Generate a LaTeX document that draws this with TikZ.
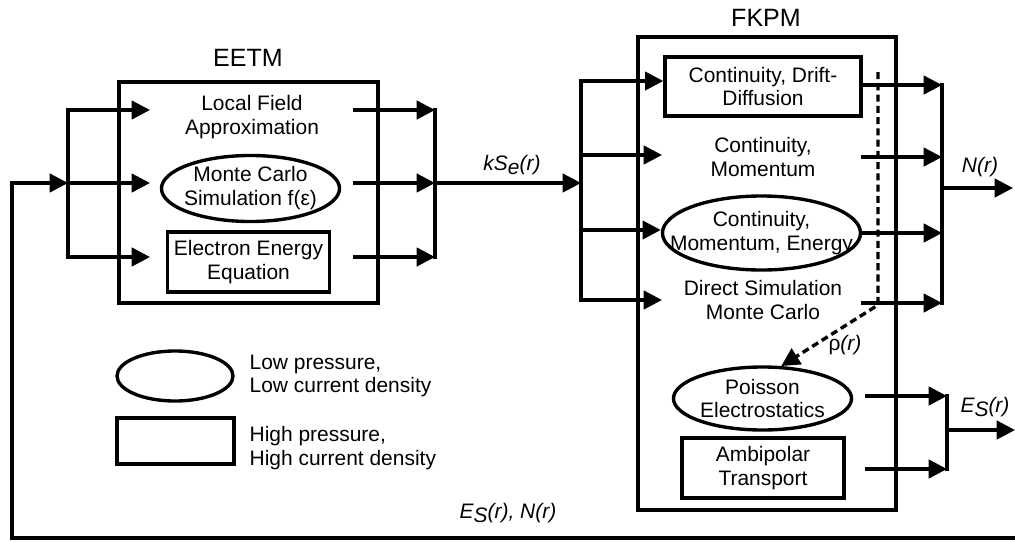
\documentclass[tikz,border=0pt]{standalone}
\usepackage{fontspec}
\setmainfont{Liberation Sans}
\usetikzlibrary{arrows.meta, calc, fit, shapes.geometric}

\begin{document}
\begin{tikzpicture}[x=0.025cm, y=-0.025cm, line width=2.4pt,
      >={Triangle[length=13pt, width=13pt]},
      font=\fontsize{14.9}{17}\selectfont,
      title/.style={font=\fontsize{17.8}{20}\selectfont},
      bigbox/.style={draw, inner sep=0pt},
      rbox/.style={draw, rectangle, align=center, inner sep=0pt},
      ebox/.style={draw, ellipse, align=center, inner sep=-2cm},
      plain/.style={align=center, inner sep=0pt},
      bus/.style={line cap=rect},
      rel/.style={font=\fontsize{14.9}{17}\selectfont\itshape, inner sep=1pt}]
    \useasboundingbox (0,0) rectangle (1015,541);
    % the two model blocks
    \node[title] (eetmT) at (248,58) {EETM};
    \node[title] (fkpmT) at (766,18) {FKPM};
    \node[bigbox, fit={(119,82) (378,303)}] (eetm) {};
    \node[bigbox, fit={(638,37) (896,510)}] (fkpm) {};
    \node[plain] (lfa) at (252,117) {Local Field\\Approximation};
    \node[ebox, minimum width=4.45cm, minimum height=1.65cm] (mcs) at (250.5,188.5) {Monte Carlo\\Simulation f(ε)};
    \node[rbox, minimum width=4.05cm, minimum height=1.5cm] (eee) at (248.5,262) {Electron Energy\\Equation};
    \node[rbox, minimum width=4.9cm, minimum height=1.475cm] (cdd) at (763,86.5) {Continuity, Drift-\\Diffusion};
    \node[plain] (cm) at (763,157) {Continuity,\\Momentum};
    \node[ebox, minimum width=4.95cm, minimum height=1.85cm] (cme) at (761.5,233) {Continuity,\\Momentum, Energy};
    \node[plain] (dsmc) at (763,300) {Direct Simulation\\Monte Carlo};
    \node[ebox, minimum width=4.45cm, minimum height=1.575cm] (pes) at (762.5,398.5) {Poisson\\Electrostatics};
    \node[rbox, minimum width=4.05cm, minimum height=1.5cm] (amb) at (763,468) {Ambipolar\\Transport};
    % legend
    \node[draw, ellipse, inner sep=0pt, minimum width=2.9cm, minimum height=1.25cm] (lgE) at (175,376) {};
    \node[rbox, minimum width=2.925cm, minimum height=1.15cm] (lgR) at (175.5,441) {};
    \node[plain, align=left, anchor=west] (lgEt) at (248,376) {Low pressure,\\Low current density};
    \node[plain, align=left, anchor=west] (lgRt) at (248,448) {High pressure,\\High current density};
    % bus points
    \coordinate (fbR) at (1015,538);
    \coordinate (fbL) at (12,183);
    \coordinate (eiA) at (68,110); \coordinate (eiB) at (68,183); \coordinate (eiC) at (68,257);
    \coordinate (eoA) at (435,110); \coordinate (eoB) at (435,183); \coordinate (eoC) at (435,257);
    \coordinate (fiA) at (581,81); \coordinate (fiB) at (581,155); \coordinate (fiC) at (581,230);
    \coordinate (fiD) at (581,300); \coordinate (fiK) at (581,183);
    \coordinate (foA) at (942,85); \coordinate (foB) at (942,157); \coordinate (foC) at (942,232);
    \coordinate (foD) at (942,303); \coordinate (foN) at (942,188);
    \coordinate (poA) at (947,396); \coordinate (poB) at (947,469); \coordinate (poE) at (947,430);
    \coordinate (dsT) at (878,72); \coordinate (dsB) at (878,305);
    % feedback and EETM
    \draw[->] (fbR) -| (fbL) -- (eiB);
    \draw[bus] (eiA) -- (eiC);
    \draw[->] (eiA) -- ++(82,0);
    \draw[->] (eiB) -- ++(82,0);
    \draw[->] (eiC) -- ++(82,0);
    \draw[bus] (eoA) -- (eoC);
    \draw[<-] (eoA) -- ++(-82,0);
    \draw[<-] (eoB) -- ++(-82,0);
    \draw[<-] (eoC) -- ++(-82,0);
    \draw[->] (eoB) -- (fiK);
    % FKPM
    \draw[bus] (fiA) -- (fiD);
    \draw[->] (fiA) -- (fiA -| cdd.west);
    \draw[->] (fiB) -- ++(81,0);
    \draw[->] (fiC) -- (fiC -| cme.west);
    \draw[->] (fiD) -- ++(81,0);
    \draw[bus] (foA) -- (foD);
    \draw[->] (cdd.east |- foA) -- (foA);
    \draw[<-] (foB) -- ++(-81,0);
    \draw[->] (cme.east) -- (cme.east -| foC);
    \draw[<-] (foD) -- ++(-81,0);
    \draw[->] (foN) -- ++(71,0);
    \draw[bus] (poA) -- (poB);
    \draw[<-] (poA) -- ++(-82,0);
    \draw[<-] (poB) -- ++(-82,0);
    \draw[->] (poE) -- ++(68,0);
    \draw[->, dash pattern=on 5pt off 3pt] (dsT) -- (dsB) -- (pes.60);
    % labels
    \node[rel] (kse) at (512,165) {kS\raisebox{-.35ex}{e}(r)};
    \node[rel] (nr) at (980,167) {N(r)};
    \node[rel] (esr) at (985,407) {E\raisebox{-.35ex}{S}(r)};
    \node[rel] (rho) at (845,345) {{\upshape ρ}(r)};
    \node[rel] (fbl) at (508,513) {E\raisebox{-.35ex}{S}(r), N(r)};
  \end{tikzpicture}
\end{document}
